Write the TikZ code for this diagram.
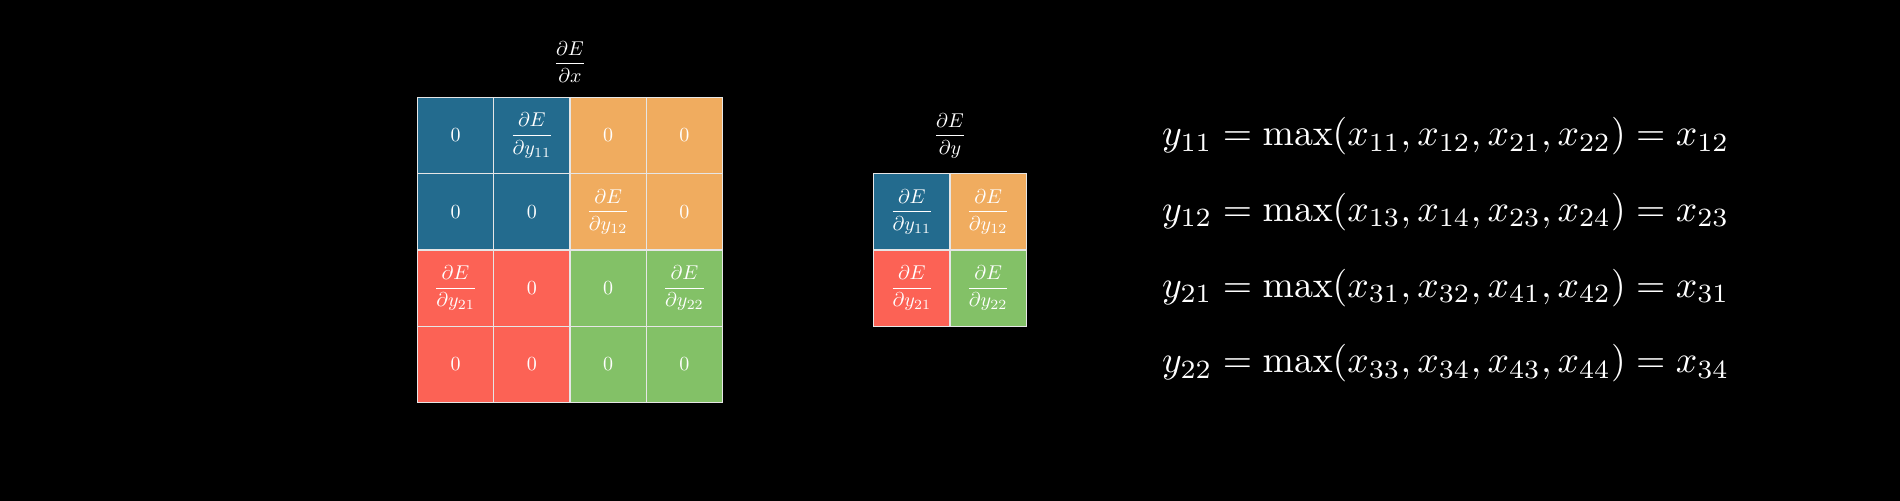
\documentclass[tikz,border=0pt]{standalone}
\usepackage{amsmath}
\usepackage{graphicx}

\definecolor{poolblue}{HTML}{236B8E}
\definecolor{poolgold}{HTML}{F0AC5F}
\definecolor{poolred}{HTML}{FC6255}
\definecolor{poolgreen}{HTML}{83C167}
\definecolor{gridgrey}{HTML}{E6E6E6}

\newcommand{\dEdy}[1]{\dfrac{\partial E}{\partial y_{#1}}}
\newcommand{\bigeq}[1]{\scalebox{1.882}{$#1$}}

\tikzset{
  cell/.style={draw=gridgrey, line width=0.75pt, minimum size=38.15pt, inner sep=0pt},
  eqline/.style={anchor=base west, inner sep=0pt}
}

\begin{document}
\begin{tikzpicture}[x=0.5pt, y=0.5pt, every node/.style={text=white}]
  \useasboundingbox (0,0) rectangle (1900,500);
  \fill[black] (-10,-10) rectangle (1910,510);

  % gradient with respect to the input
  \foreach \r/\c/\col/\val in {1/1/poolblue/0, 1/2/poolblue/\dEdy{11}, 1/3/poolgold/0, 1/4/poolgold/0,
      2/1/poolblue/0, 2/2/poolblue/0, 2/3/poolgold/\dEdy{12}, 2/4/poolgold/0,
      3/1/poolred/\dEdy{21}, 3/2/poolred/0, 3/3/poolgreen/0, 3/4/poolgreen/\dEdy{22},
      4/1/poolred/0, 4/2/poolred/0, 4/3/poolgreen/0, 4/4/poolgreen/0}
    \node[cell, fill=\col] (dx-\r\c) at ({417.4+(\c-0.5)*76.3}, {402.6-(\r-0.5)*76.3}) {$\val$};
  \node (dxlabel) at (570,438.3) {$\dfrac{\partial E}{\partial x}$};

  % gradient with respect to the output
  \foreach \r/\c/\col in {1/1/poolblue, 1/2/poolgold, 2/1/poolred, 2/2/poolgreen}
    \node[cell, fill=\col] (dy-\r\c) at ({873.7+(\c-0.5)*76.3}, {326.3-(\r-0.5)*76.3}) {$\dEdy{\r\c}$};
  \node (dylabel) at (950,364.3) {$\dfrac{\partial E}{\partial y}$};

  % max pooling
  \node[eqline] (eq11) at (1161.7,354.6) {\bigeq{y_{11} = \max(x_{11}, x_{12}, x_{21}, x_{22}) = x_{12}}};
  \node[eqline] (eq12) at (1161.7,278.9) {\bigeq{y_{12} = \max(x_{13}, x_{14}, x_{23}, x_{24}) = x_{23}}};
  \node[eqline] (eq21) at (1161.7,202.9) {\bigeq{y_{21} = \max(x_{31}, x_{32}, x_{41}, x_{42}) = x_{31}}};
  \node[eqline] (eq22) at (1161.7,127.3) {\bigeq{y_{22} = \max(x_{33}, x_{34}, x_{43}, x_{44}) = x_{34}}};
\end{tikzpicture}
\end{document}
